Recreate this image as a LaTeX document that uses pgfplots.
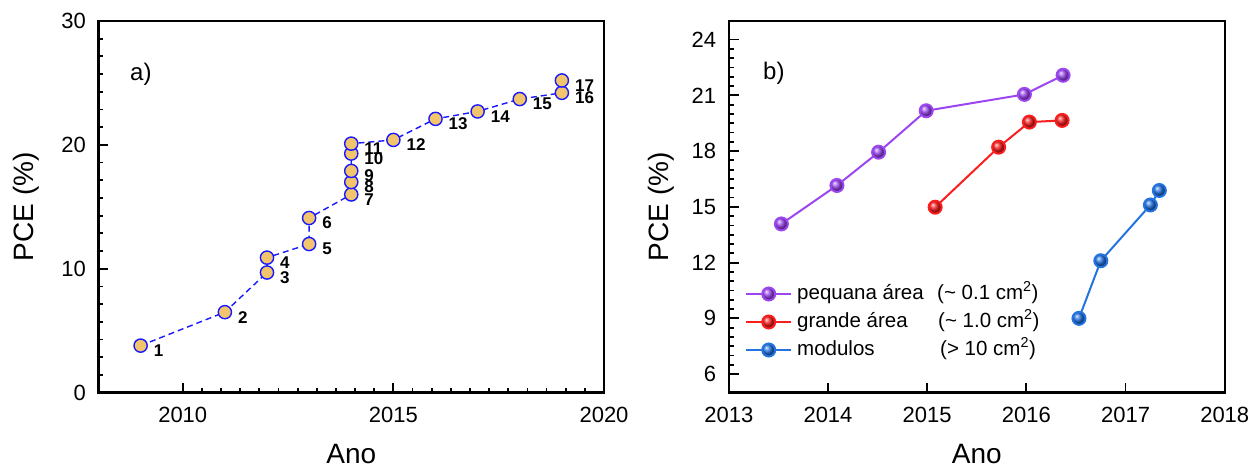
\documentclass[border=0pt]{standalone}
\usepackage{fontspec}
\setmainfont{Liberation Sans}
\usepackage{pgfplots}
\pgfplotsset{compat=1.18}
\usepackage{pgfplotstable}

\definecolor{mkfill}{RGB}{242,196,108}
\definecolor{mkedge}{RGB}{25,25,255}
\definecolor{cpur}{RGB}{155,70,240}
\definecolor{cred}{RGB}{250,30,30}
\definecolor{cblu}{RGB}{35,115,225}

\pgfplotstableread{
x y lab
2009 3.8 1
2011 6.5 2
2012 9.7 3
2012 10.9 4
2013 12.0 5
2013 14.1 6
2014 16.0 7
2014 17.0 8
2014 17.9 9
2014 19.3 10
2014 20.1 11
2015 20.4 12
2016 22.1 13
2017 22.7 14
2018 23.7 15
2019 24.2 16
2019 25.2 17
}\dataA

\pgfplotstableread{
x y
2013.53 14.08
2014.09 16.15
2014.51 17.94
2014.99 20.17
2015.98 21.05
2016.37 22.08
}\dataP

\pgfplotstableread{
x y
2015.08 14.98
2015.72 18.21
2016.03 19.56
2016.36 19.65
}\dataR

\pgfplotstableread{
x y
2016.53 9.00
2016.75 12.10
2017.25 15.10
2017.34 15.88
}\dataB

\pgfplotsset{
 myaxis/.style={
  scale only axis, anchor=south west,
  axis line style={line width=2.4pt, line cap=rect},
  tick align=inside, xtick pos=bottom, ytick pos=left,
  major tick length=10pt, minor tick length=5pt,
  every tick/.style={black, line width=1.8pt},
  /pgf/number format/assume math mode=true,
  /pgf/number format/1000 sep={},
  tick label style={font=\fontsize{22}{26}\selectfont, inner sep=0pt},
  xticklabel style={anchor=north, yshift=-14pt},
  yticklabel style={anchor=east, xshift=-12.5pt},
  label style={font=\fontsize{28}{32}\selectfont, inner sep=0pt},
  xlabel style={at={(axis description cs:0.5,-0.1915)}, anchor=base},
  clip=false,
 }
}

\begin{document}
\begin{tikzpicture}
\path[use as bounding box] (0,0) rectangle (1260pt,468pt);

\begin{axis}[myaxis,
  at={(98.5pt,75.3pt)}, width=505.5pt, height=371.7pt,
  xmin=2008, xmax=2020, ymin=0, ymax=30,
  xtick={2010,2015,2020}, ytick={0,10,20,30},
  minor x tick num=10, minor y tick num=6,
  xlabel={Ano}, ylabel={PCE (\%)},
  ylabel style={at={(axis description cs:-0.1177,0.5)}, anchor=south},
]
\addplot[mkedge, dash pattern=on 6pt off 4pt, line width=1.4pt, forget plot] table[x=x,y=y]{\dataA};
\addplot[only marks, mark=*, mark size=6.6pt,
  mark options={fill=mkfill, draw=mkedge, line width=1.4pt},
  nodes near coords, point meta=explicit symbolic,
  every node near coord/.append style={font=\fontsize{17}{19}\selectfont\bfseries, anchor=west, xshift=12.5pt, yshift=-5pt, inner sep=0pt, text=black}]
  table[x=x,y=y,meta=lab]{\dataA};
\node[anchor=base west, font=\fontsize{24}{28}\selectfont, inner sep=0pt] at (axis description cs:0.0623,0.8386) {a)};
\end{axis}

\begin{axis}[myaxis,
  at={(728.8pt,75.3pt)}, width=496pt, height=371.7pt,
  xmin=2013, xmax=2018, ymin=5, ymax=25,
  xtick={2013,2014,...,2018}, ytick={6,9,...,24},
  minor x tick num=5, minor y tick num=5,
  xlabel={Ano}, ylabel={PCE (\%)},
  ylabel style={at={(axis description cs:-0.1105,0.5)}, anchor=south},
  legend image code/.code={\draw[#1, mark repeat=2, mark phase=2] plot coordinates {(0pt,0pt) (22.5pt,0pt) (45pt,0pt)};},
  legend style={draw=none, fill=none, at={(axis description cs:0.0327,0.2943)}, anchor=north west,
    inner sep=0pt, column sep=5pt, row sep=7pt, font=\fontsize{20.5}{24}\selectfont,
    nodes={inner sep=0pt, text height=16pt, text depth=5pt}},
  legend cell align=left,
]
\addplot[cpur, line width=2pt, mark=ball, mark size=6.5pt, mark options={ball color=cpur}] table[x=x,y=y]{\dataP};
\addlegendentry{\makebox[140pt][l]{pequana área}(\textasciitilde\ 0.1 cm\textsuperscript{2})}
\addplot[cred, line width=2pt, mark=ball, mark size=6.5pt, mark options={ball color=cred}] table[x=x,y=y]{\dataR};
\addlegendentry{\makebox[141pt][l]{grande área}(\textasciitilde\ 1.0 cm\textsuperscript{2})}
\addplot[cblu, line width=2pt, mark=ball, mark size=6.5pt, mark options={ball color=cblu}] table[x=x,y=y]{\dataB};
\addlegendentry{\makebox[143pt][l]{modulos}(> 10 cm\textsuperscript{2})}
\node[anchor=base west, font=\fontsize{24}{28}\selectfont, inner sep=0pt] at (axis description cs:0.069,0.8413) {b)};
\end{axis}
\end{tikzpicture}
\end{document}
